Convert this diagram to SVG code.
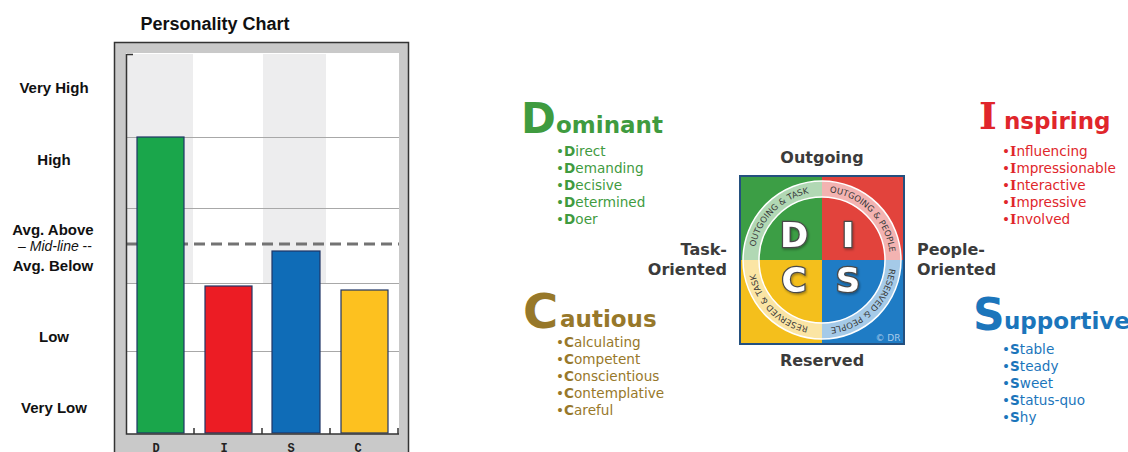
<svg xmlns="http://www.w3.org/2000/svg" width="1128" height="452" viewBox="0 0 1128 452">
<style>
.lab{font-family:"Liberation Sans",Arial,sans-serif;font-weight:bold;font-size:15px;fill:#111;text-anchor:middle}
.mid{font-family:"Liberation Sans",Arial,sans-serif;font-weight:normal;font-size:14px;fill:#111;text-anchor:middle}
.grid{stroke:#a8a8a8;stroke-width:1}
.bar{stroke:#1f3566;stroke-width:1.2}
.ax{font-family:"Liberation Mono",monospace;font-weight:bold;font-size:12px;fill:#222;text-anchor:middle}
.big{font-family:"DejaVu Sans",Verdana,sans-serif;font-weight:bold}
.bl{font-family:"DejaVu Sans",Verdana,sans-serif;font-size:13.6px}
.bl tspan.b{font-weight:bold}
.ser{font-family:"DejaVu Serif",serif}
.dir{font-family:"DejaVu Sans",Verdana,sans-serif;font-weight:bold;font-size:16px;fill:#3b3b3b}
.ring{font-family:"DejaVu Sans",Verdana,sans-serif;font-size:8.5px;fill:#3a3a3a}
.dl{font-family:"DejaVu Sans",Verdana,sans-serif;font-weight:bold;font-size:34px;fill:#fff;stroke:#4a4a4a;stroke-width:2.5;paint-order:stroke;text-anchor:middle}
</style>
<defs>
<path id="aTL" d="M754,260 A68,68 0 0 1 822,192"/>
<path id="aTR" d="M822,192 A68,68 0 0 1 890,260"/>
<path id="aBR" d="M890,260 A68,68 0 0 1 822,328"/>
<path id="aBL" d="M822,328 A68,68 0 0 1 754,260"/>
<filter id="sh" x="-20%" y="-20%" width="140%" height="140%"><feDropShadow dx="1" dy="1.5" stdDeviation="1" flood-color="#000" flood-opacity="0.35"/></filter>
</defs>
<rect width="1128" height="452" fill="#fff"/>

<g id="chart">
<text x="215" y="30" font-family="Liberation Sans,Arial,sans-serif" font-weight="bold" font-size="18" fill="#111" text-anchor="middle">Personality Chart</text>
<rect x="114.5" y="42.5" width="294" height="420" fill="#c9c9c9" stroke="#333" stroke-width="1.5"/>
<rect x="126" y="53" width="273" height="381" fill="#fff"/>
<rect x="126" y="54" width="67" height="229" fill="#ededee"/>
<rect x="263" y="54" width="63" height="229" fill="#ededee"/>
<line class="grid" x1="126" y1="137.5" x2="399" y2="137.5"/>
<line class="grid" x1="126" y1="208.5" x2="399" y2="208.5"/>
<line class="grid" x1="126" y1="283.5" x2="399" y2="283.5"/>
<line class="grid" x1="126" y1="351.5" x2="399" y2="351.5"/>
<line x1="126" y1="244" x2="399" y2="244" stroke="#737373" stroke-width="3" stroke-dasharray="11,6"/>
<rect class="bar" x="137" y="137" width="47" height="296" fill="#1aa64b"/>
<rect class="bar" x="205" y="286" width="47" height="147" fill="#ec1c24"/>
<rect class="bar" x="272" y="251" width="48" height="182" fill="#0f6cb7"/>
<rect class="bar" x="341" y="290" width="47" height="143" fill="#fdc11f"/>
<path d="M126.5,54 V434 H399 M126.5,54.5 H133 M194,434 V428 M262,434 V428 M330,434 V428 M398,434 V428" fill="none" stroke="#333" stroke-width="1.5"/>
<text class="ax" x="156" y="452">D</text>
<text class="ax" x="224" y="452">I</text>
<text class="ax" x="291" y="452">S</text>
<text class="ax" x="358" y="452">C</text>
<text class="lab" x="54" y="93">Very High</text>
<text class="lab" x="54" y="165">High</text>
<text class="lab" x="53" y="235">Avg. Above</text>
<text class="mid" x="55" y="251">– <tspan font-style="italic">Mid-line</tspan> --</text>
<text class="lab" x="53" y="271">Avg. Below</text>
<text class="lab" x="54" y="342">Low</text>
<text class="lab" x="54" y="413">Very Low</text>
</g>

<g id="dominant" fill="#3f9b3f">
<text class="big" x="521" y="133" font-size="42">D</text>
<text class="big" x="556" y="133" font-size="23">ominant</text>
<text class="bl"><tspan x="556" y="156">•<tspan class="b">D</tspan>irect</tspan><tspan x="556" y="173">•<tspan class="b">D</tspan>emanding</tspan><tspan x="556" y="190">•<tspan class="b">D</tspan>ecisive</tspan><tspan x="556" y="207">•<tspan class="b">D</tspan>etermined</tspan><tspan x="556" y="224">•<tspan class="b">D</tspan>oer</tspan></text>
</g>

<g id="cautious" fill="#97782a">
<text class="big" x="523" y="328" font-size="48">C</text>
<text class="big" x="560" y="327" font-size="23">autious</text>
<text class="bl"><tspan x="556" y="347">•<tspan class="b">C</tspan>alculating</tspan><tspan x="556" y="364">•<tspan class="b">C</tspan>ompetent</tspan><tspan x="556" y="381">•<tspan class="b">C</tspan>onscientious</tspan><tspan x="556" y="398">•<tspan class="b">C</tspan>ontemplative</tspan><tspan x="556" y="415">•<tspan class="b">C</tspan>areful</tspan></text>
</g>

<g id="inspiring" fill="#e0262b">
<text class="big ser" x="979" y="129" font-size="38">I</text>
<text class="big" x="1004" y="129" font-size="23">nspiring</text>
<text class="bl"><tspan x="1002" y="156">•<tspan class="b ser">I</tspan>nfluencing</tspan><tspan x="1002" y="173">•<tspan class="b ser">I</tspan>mpressionable</tspan><tspan x="1002" y="190">•<tspan class="b ser">I</tspan>nteractive</tspan><tspan x="1002" y="207">•<tspan class="b ser">I</tspan>mpressive</tspan><tspan x="1002" y="224">•<tspan class="b ser">I</tspan>nvolved</tspan></text>
</g>

<g id="supportive" fill="#1b75bb">
<text class="big" x="973" y="330" font-size="44">S</text>
<text class="big" x="1004" y="329" font-size="23">upportive</text>
<text class="bl"><tspan x="1002" y="354">•<tspan class="b">S</tspan>table</tspan><tspan x="1002" y="371">•<tspan class="b">S</tspan>teady</tspan><tspan x="1002" y="388">•<tspan class="b">S</tspan>weet</tspan><tspan x="1002" y="405">•<tspan class="b">S</tspan>tatus-quo</tspan><tspan x="1002" y="422">•<tspan class="b">S</tspan>hy</tspan></text>
</g>

<g id="disc">
<rect x="740" y="176" width="82" height="84" fill="#3c9e45"/>
<rect x="822" y="176" width="82" height="84" fill="#e2433c"/>
<rect x="740" y="260" width="82" height="84" fill="#f4bf1c"/>
<rect x="822" y="260" width="82" height="84" fill="#1f7cc5"/>
<rect x="740" y="176" width="164" height="168" fill="none" stroke="#24507f" stroke-width="2"/>
<circle cx="822" cy="260" r="71" fill="none" stroke="#fff" stroke-opacity="0.6" stroke-width="16"/>
<circle cx="822" cy="260" r="79" fill="none" stroke="#fff" stroke-width="1.5"/>
<circle cx="822" cy="260" r="63" fill="none" stroke="#fff" stroke-width="1.5"/>
<text class="ring"><textPath href="#aTL" startOffset="50%" text-anchor="middle">OUTGOING &amp; TASK</textPath></text>
<text class="ring"><textPath href="#aTR" startOffset="50%" text-anchor="middle">OUTGOING &amp; PEOPLE</textPath></text>
<text class="ring"><textPath href="#aBR" startOffset="50%" text-anchor="middle">RESERVED &amp; PEOPLE</textPath></text>
<text class="ring"><textPath href="#aBL" startOffset="50%" text-anchor="middle">RESERVED &amp; TASK</textPath></text>
<g filter="url(#sh)">
<text class="dl" x="794" y="247">D</text>
<text class="dl ser" x="848" y="247">I</text>
<text class="dl" x="794" y="292">C</text>
<text class="dl" x="848" y="292">S</text>
</g>
<text x="888" y="341" font-family="DejaVu Sans,sans-serif" font-size="9" fill="#a9cbea" text-anchor="middle">© DR</text>
</g>

<g id="axes-labels">
<text class="dir" x="822" y="163" text-anchor="middle">Outgoing</text>
<text class="dir" x="822" y="366" text-anchor="middle">Reserved</text>
<text class="dir" x="727" y="255" text-anchor="end">Task-</text>
<text class="dir" x="727" y="275" text-anchor="end">Oriented</text>
<text class="dir" x="917" y="255">People-</text>
<text class="dir" x="917" y="275">Oriented</text>
</g>
</svg>
